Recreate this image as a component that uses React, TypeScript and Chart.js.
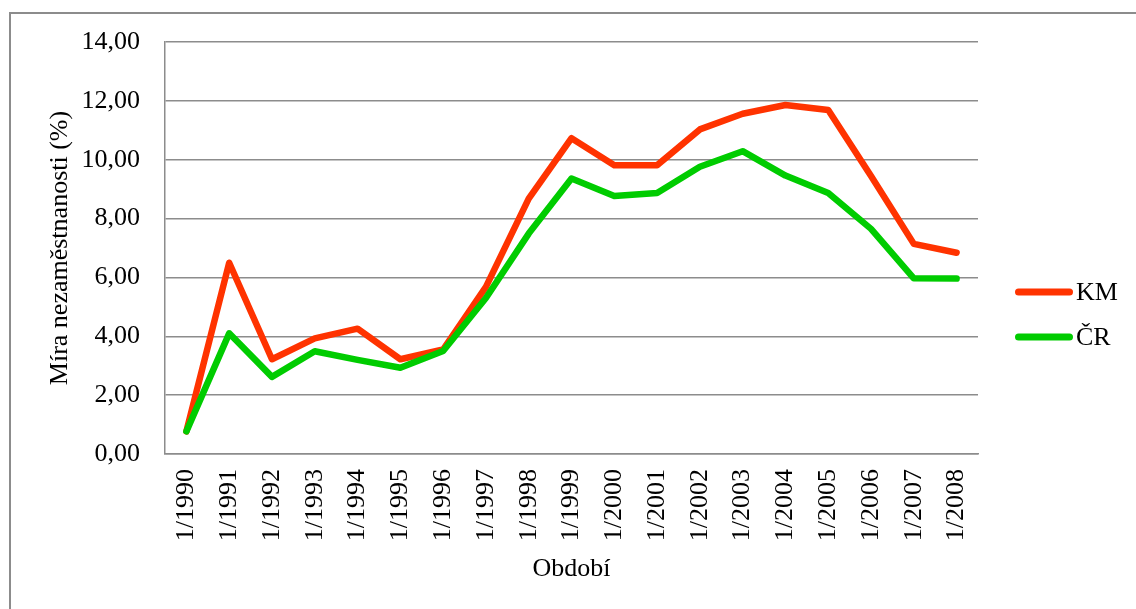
import React, { useEffect, useRef } from "react";
import { Chart, registerables } from "chart.js";

Chart.register(...registerables);

const categories = [
  "1/1990", "1/1991", "1/1992", "1/1993", "1/1994", "1/1995", "1/1996",
  "1/1997", "1/1998", "1/1999", "1/2000", "1/2001", "1/2002", "1/2003",
  "1/2004", "1/2005", "1/2006", "1/2007", "1/2008",
];

const kmValues = [
  0.77, 6.5, 3.22, 3.93, 4.26, 3.22, 3.55, 5.68, 8.68, 10.73, 9.81, 9.81,
  11.03, 11.56, 11.86, 11.69, 9.45, 7.14, 6.84,
];

const crValues = [
  0.77, 4.1, 2.62, 3.49, 3.2, 2.93, 3.5, 5.3, 7.49, 9.36, 8.77, 8.87, 9.76,
  10.29, 9.46, 8.87, 7.65, 5.97, 5.96,
];

const seriesLabels = ["KM", "ČR"];
const seriesColors = ["#FF3300", "#00CC00"];

const yTitle = "Míra nezaměstnanosti (%)";
const xTitle = "Období";

const FONT = "'Liberation Serif', 'Times New Roman', serif";

const frameAndLegend = {
  id: "frameAndLegend",
  beforeDraw(chart: any) {
    const ctx = chart.ctx;
    ctx.save();
    ctx.strokeStyle = "#8c8c8c";
    ctx.lineWidth = 2;
    ctx.strokeRect(10, 13, 3000, 3000);
    ctx.restore();
  },
  afterDraw(chart: any, _args: any, opts: any) {
    const ctx = chart.ctx;
    const { x, y, lineLength, spacing, gap, fontSize } = opts;
    chart.data.datasets.forEach((ds: any, i: number) => {
      const cy = y + i * spacing;
      ctx.save();
      ctx.strokeStyle = ds.borderColor;
      ctx.lineWidth = 7;
      ctx.lineCap = "round";
      ctx.beginPath();
      ctx.moveTo(x + 3.5, cy);
      ctx.lineTo(x + lineLength - 3.5, cy);
      ctx.stroke();
      ctx.fillStyle = "#000";
      ctx.font = `${fontSize}px ${FONT}`;
      ctx.textBaseline = "middle";
      ctx.textAlign = "left";
      ctx.fillText(ds.label, x + lineLength + gap, cy + 1.5);
      ctx.restore();
    });
  },
};

export default function App() {
  const ref = useRef<HTMLCanvasElement | null>(null);

  useEffect(() => {
    if (!ref.current) return;
    const chart = new Chart(ref.current, {
      type: "line",
      data: {
        labels: categories,
        datasets: [
          {
            label: seriesLabels[0],
            data: kmValues,
            borderColor: seriesColors[0],
            backgroundColor: seriesColors[0],
            borderWidth: 6.5,
            pointRadius: 0,
            tension: 0,
            borderJoinStyle: "round",
            borderCapStyle: "round",
            order: 1,
          },
          {
            label: seriesLabels[1],
            data: crValues,
            borderColor: seriesColors[1],
            backgroundColor: seriesColors[1],
            borderWidth: 6.5,
            pointRadius: 0,
            tension: 0,
            borderJoinStyle: "round",
            borderCapStyle: "round",
            order: 0,
          },
        ],
      },
      options: {
        animation: false,
        responsive: false,
        maintainAspectRatio: false,
        layout: { padding: { top: 42, right: 158, bottom: 0, left: 0 } },
        plugins: {
          legend: { display: false },
          tooltip: { enabled: false },
          frameAndLegend: {
            x: 1015,
            y: 292,
            lineLength: 58,
            spacing: 45,
            gap: 3,
            fontSize: 26,
          },
        } as any,
        scales: {
          x: {
            offset: true,
            grid: { display: false, drawTicks: false },
            border: { display: true, color: "#8c8c8c", width: 1.5 },
            ticks: {
              minRotation: 90,
              maxRotation: 90,
              autoSkip: false,
              padding: 15,
              color: "#000",
              font: { family: FONT, size: 26 },
            },
            title: {
              display: true,
              text: xTitle,
              color: "#000",
              font: { family: FONT, size: 26 },
              padding: { top: 0, bottom: 24 },
            },
            afterFit(scale: any) {
              scale.height = 155;
            },
          },
          y: {
            min: 0,
            max: 14,
            grid: { color: "#8c8c8c", lineWidth: 1.5, drawTicks: false },
            border: { display: true, color: "#8c8c8c", width: 1.5 },
            ticks: {
              stepSize: 2,
              padding: 25,
              color: "#000",
              font: { family: FONT, size: 26 },
              callback: (v: any) => Number(v).toFixed(2).replace(".", ","),
            },
            title: {
              display: true,
              text: yTitle,
              color: "#000",
              font: { family: FONT, size: 26 },
              padding: { top: 45, bottom: 0 },
            },
            afterFit(scale: any) {
              scale.width = 165;
            },
          },
        },
      },
      plugins: [frameAndLegend],
    });
    return () => chart.destroy();
  }, []);

  return (
    <div
      style={{
        position: "fixed",
        left: 0,
        top: 0,
        width: 1136,
        height: 609,
        overflow: "hidden",
        background: "#fff",
      }}
    >
      <canvas ref={ref} width={1136} height={609} style={{ display: "block" }} />
    </div>
  );
}
